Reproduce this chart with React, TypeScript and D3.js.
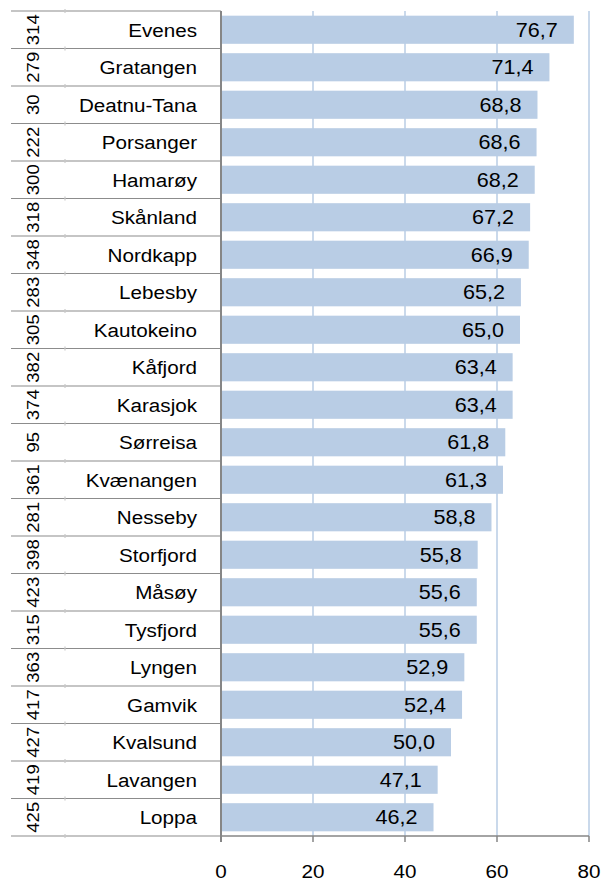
import React, { useEffect, useRef } from "react";
import * as d3 from "d3";

// municipality codes, names and values (top to bottom)
const codes = ["314", "279", "30", "222", "300", "318", "348", "283", "305", "382", "374", "95", "361", "281", "398", "423", "315", "363", "417", "427", "419", "425"];
const names = ["Evenes", "Gratangen", "Deatnu-Tana", "Porsanger", "Hamarøy", "Skånland", "Nordkapp", "Lebesby", "Kautokeino", "Kåfjord", "Karasjok", "Sørreisa", "Kvænangen", "Nesseby", "Storfjord", "Måsøy", "Tysfjord", "Lyngen", "Gamvik", "Kvalsund", "Lavangen", "Loppa"];
const values = [76.7, 71.4, 68.8, 68.6, 68.2, 67.2, 66.9, 65.2, 65.0, 63.4, 63.4, 61.8, 61.3, 58.8, 55.8, 55.6, 55.6, 52.9, 52.4, 50.0, 47.1, 46.2];
const ticks = [0, 20, 40, 60, 80];

const W = 603;
const H = 881;

export default function App() {
  const ref = useRef<SVGSVGElement>(null);

  useEffect(() => {
    const svg = d3.select(ref.current);
    svg.selectAll("*").remove();

    const top = 11, bottom = 836, left = 221, right = 589;
    const labLeft = 11;
    const font = "Arial, 'Liberation Sans', sans-serif";

    const x = d3.scaleLinear().domain([0, 80]).range([left, right]);
    const y = d3.scaleBand<string>().domain(names).range([top, bottom]).paddingInner(0.25).paddingOuter(0.125);
    const step = y.step();
    const rowTop = (i: number) => top + i * step;

    // gridlines
    svg.append("g").selectAll("line").data(ticks.slice(1)).join("line")
      .attr("x1", d => x(d)).attr("x2", d => x(d))
      .attr("y1", top).attr("y2", bottom)
      .attr("stroke", "#b9cde5").attr("stroke-width", 1.5);

    // bars
    svg.append("g").selectAll("rect").data(values).join("rect")
      .attr("x", x(0))
      .attr("y", (d, i) => y(names[i])!)
      .attr("width", d => x(d) - x(0))
      .attr("height", y.bandwidth())
      .attr("fill", "#b9cde5");

    // value labels (text is a bit wider than it is tall in the original)
    svg.append("g").selectAll("text").data(values).join("text")
      .attr("transform", (d, i) => `translate(${x(d) - 16},${y(names[i])! + y.bandwidth() / 2}) scale(1.08,1)`)
      .attr("dy", "0.36em")
      .attr("text-anchor", "end")
      .attr("font-family", font).attr("font-size", 20)
      .attr("fill", "#000")
      .text(d => d.toFixed(1).replace(".", ","));

    // label table lines
    const lines = svg.append("g").attr("stroke", "#8c8c8c").attr("stroke-width", 1.2);
    lines.selectAll("line.row").data(d3.range(names.length + 1)).join("line")
      .attr("class", "row")
      .attr("x1", labLeft).attr("x2", left)
      .attr("y1", i => rowTop(i)).attr("y2", i => rowTop(i));
    lines.selectAll("line.div").data(d3.range(names.length + 1)).join("line")
      .attr("class", "div")
      .attr("x1", 65).attr("x2", 65)
      .attr("y1", i => rowTop(i) - 2).attr("y2", i => rowTop(i) + 2)
      .attr("stroke", "#c8c8c8");

    // codes (rotated)
    svg.append("g").selectAll("text").data(codes).join("text")
      .attr("transform", (d, i) => `translate(${32.5},${rowTop(i) + step / 2}) rotate(-90) scale(1,0.9)`)
      .attr("text-anchor", "middle")
      .attr("dy", "0.36em")
      .attr("font-family", font).attr("font-size", 18.5)
      .attr("fill", "#000")
      .text(d => d);

    // names
    svg.append("g").selectAll("text").data(names).join("text")
      .attr("transform", (d, i) => `translate(197,${rowTop(i) + step / 2}) scale(1.11,1)`)
      .attr("dy", "0.38em")
      .attr("text-anchor", "end")
      .attr("font-family", font).attr("font-size", 18.6)
      .attr("fill", "#000")
      .text(d => d);

    // axes
    svg.append("line")
      .attr("x1", left).attr("x2", left).attr("y1", top).attr("y2", bottom + 6)
      .attr("stroke", "#868686").attr("stroke-width", 2);
    svg.append("line")
      .attr("x1", left).attr("x2", right).attr("y1", bottom).attr("y2", bottom)
      .attr("stroke", "#868686").attr("stroke-width", 1.5);
    svg.append("g").selectAll("line").data(ticks).join("line")
      .attr("x1", d => x(d)).attr("x2", d => x(d))
      .attr("y1", bottom).attr("y2", bottom + 6)
      .attr("stroke", "#868686").attr("stroke-width", 1.5);
    svg.append("g").selectAll("text").data(ticks).join("text")
      .attr("transform", d => `translate(${x(d)},878) scale(1.11,1)`)
      .attr("text-anchor", "middle")
      .attr("font-family", font).attr("font-size", 18.6)
      .attr("fill", "#000")
      .text(d => d);
  }, []);

  return (
    <svg ref={ref} width={W} height={H} style={{ position: "absolute", left: 0, top: 0, background: "#fff" }} />
  );
}
